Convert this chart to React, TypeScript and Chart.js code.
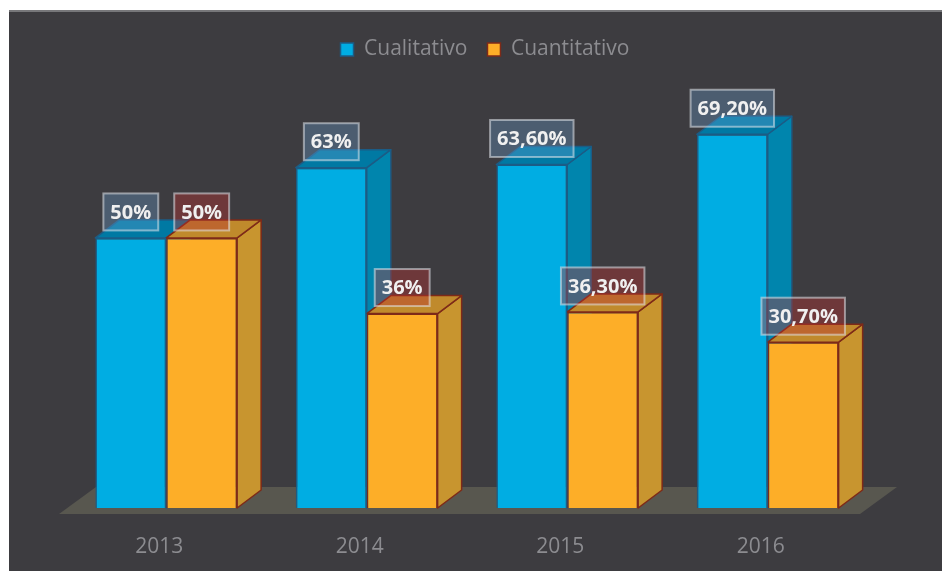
import React, { useEffect, useRef } from "react";
import { Chart, registerables } from "chart.js";

Chart.register(...registerables);

const categories = ["2013", "2014", "2015", "2016"];
const cualitativo = [50, 63, 63.6, 69.2];
const cuantitativo = [50, 36, 36.3, 30.7];
const cualitativoLabels = ["50%", "63%", "63,60%", "69,20%"];
const cuantitativoLabels = ["50%", "36%", "36,30%", "30,70%"];

const FONT = '"Open Sans", sans-serif';
const DEPTH_X = 24;
const DEPTH_Y = 18;
const looks = [
  { side: "#0085ad", top: "#0079a3", edge: "#1b5c86", box: "rgba(110,165,215,0.32)", labels: cualitativoLabels },
  { side: "#c8952f", top: "#c08a2c", edge: "#7e2a18", box: "rgba(185,50,50,0.40)", labels: cuantitativoLabels },
];

const stage = {
  id: "stage",
  afterLayout(chart: any) {
    const legend = chart.legend;
    legend.left += 36;
    legend.top += 13;
    legend.bottom += 13;
  },
  beforeDraw(chart: any) {
    const { ctx, width, height, scales } = chart;
    ctx.save();
    ctx.fillStyle = "#ffffff";
    ctx.fillRect(0, 0, width, height);
    ctx.fillStyle = "#3d3c40";
    ctx.fillRect(9, 11, width - 9, height - 11);
    ctx.fillStyle = "#77777a";
    ctx.fillRect(9, 10, width - 9, 2);
    const base = scales.y.getPixelForValue(0);
    const l = scales.x.left;
    const r = scales.x.right;
    ctx.fillStyle = "#58574f";
    ctx.beginPath();
    ctx.moveTo(l - 7, base + 6);
    ctx.lineTo(l + 30, base - 21);
    ctx.lineTo(r + 29, base - 21);
    ctx.lineTo(r - 8, base + 6);
    ctx.closePath();
    ctx.fill();
    ctx.restore();
  },
  beforeDatasetsDraw(chart: any) {
    const { ctx } = chart;
    ctx.save();
    ctx.lineWidth = 1.5;
    ctx.lineJoin = "round";
    looks.forEach((look, d) => {
      chart.getDatasetMeta(d).data.forEach((bar: any) => {
        const left = bar.x - bar.width / 2;
        const right = bar.x + bar.width / 2;
        ctx.strokeStyle = look.edge;
        ctx.fillStyle = look.side;
        ctx.beginPath();
        ctx.moveTo(right, bar.y);
        ctx.lineTo(right + DEPTH_X, bar.y - DEPTH_Y);
        ctx.lineTo(right + DEPTH_X, bar.base - DEPTH_Y);
        ctx.lineTo(right, bar.base);
        ctx.closePath();
        ctx.fill();
        ctx.stroke();
        ctx.fillStyle = look.top;
        ctx.beginPath();
        ctx.moveTo(left, bar.y);
        ctx.lineTo(left + DEPTH_X, bar.y - DEPTH_Y);
        ctx.lineTo(right + DEPTH_X, bar.y - DEPTH_Y);
        ctx.lineTo(right, bar.y);
        ctx.closePath();
        ctx.fill();
        ctx.stroke();
      });
    });
    ctx.restore();
  },
  afterDatasetsDraw(chart: any) {
    const { ctx } = chart;
    ctx.save();
    ctx.font = `700 20px ${FONT}`;
    ctx.textAlign = "center";
    ctx.textBaseline = "middle";
    looks.forEach((look, d) => {
      chart.getDatasetMeta(d).data.forEach((bar: any, i: number) => {
        const text = look.labels[i];
        const w = ctx.measureText(text).width + 14;
        const h = 37;
        const cy = bar.y - 26;
        ctx.fillStyle = look.box;
        ctx.fillRect(bar.x - w / 2, cy - h / 2, w, h);
        ctx.strokeStyle = "rgba(225,230,235,0.55)";
        ctx.lineWidth = 2;
        ctx.strokeRect(bar.x - w / 2, cy - h / 2, w, h);
        ctx.fillStyle = "#f0f0f0";
        ctx.fillText(text, bar.x, cy + 1);
      });
    });
    ctx.restore();
  },
};

export default function App() {
  const ref = useRef<HTMLCanvasElement>(null);
  useEffect(() => {
    const chart = new Chart(ref.current!, {
      type: "bar",
      data: {
        labels: categories,
        datasets: [
          { label: "Cualitativo", data: cualitativo, backgroundColor: "#00ade3", borderColor: looks[0].edge, borderWidth: 1.5 },
          { label: "Cuantitativo", data: cuantitativo, backgroundColor: "#fdae28", borderColor: looks[1].edge, borderWidth: 1.5 },
        ],
      },
      options: {
        responsive: false,
        animation: false,
        layout: { padding: { left: 66, right: 74, top: 6, bottom: 13 } },
        datasets: { bar: { barPercentage: 1, categoryPercentage: 0.707 } },
        plugins: {
          tooltip: { enabled: false },
          legend: {
            position: "top",
            labels: {
              color: "#8c8c90",
              font: { family: FONT, size: 21 },
              boxWidth: 13,
              boxHeight: 13,
              padding: 20,
            },
          },
        },
        scales: {
          x: {
            grid: { display: false },
            border: { display: false },
            afterFit: (s: any) => { s.height = 50; },
            ticks: { color: "#8c8c90", font: { family: FONT, size: 21 }, padding: 18, maxRotation: 0, labelOffset: -7 },
          },
          y: { display: false, min: 0, max: 83.5 },
        },
      },
      plugins: [stage],
    } as any);
    return () => chart.destroy();
  }, []);
  return <canvas ref={ref} width={942} height={571} style={{ position: "absolute", left: 0, top: 0, display: "block" }} />;
}
